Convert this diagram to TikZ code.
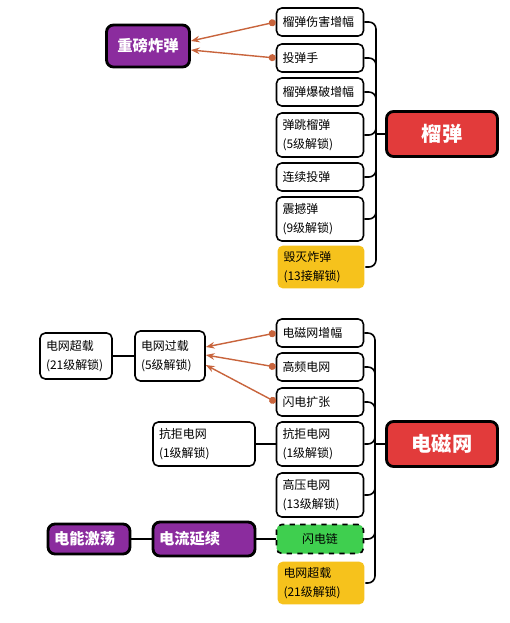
\documentclass[tikz,border=0pt]{standalone}
\usepackage{fontspec}
\setmainfont{Noto Sans CJK SC}
\usetikzlibrary{arrows.meta}
\definecolor{boxred}{HTML}{E23B3B}
\definecolor{boxpurple}{HTML}{8B2C9E}
\definecolor{boxgreen}{HTML}{3FCF4F}
\definecolor{boxyellow}{HTML}{F6C21C}
\definecolor{linkc}{HTML}{C8643C}
\tikzset{
  item/.style={draw, line width=0.9pt, rounded corners=3pt, fill=white, text width=1.5cm, inner xsep=0.12cm, align=left, minimum height=0.56cm, font=\fontsize{6.8}{10.6}\selectfont},
  twoline/.style={minimum height=0.88cm},
  hilite/.style={item, draw=none, fill=boxyellow, minimum height=0.84cm},
  chain/.style={item, dashed, fill=boxgreen, align=center, minimum height=0.58cm},
  head/.style={draw, line width=1.6pt, rounded corners=4pt, fill=boxred, text=white, font=\fontsize{11.5}{13}\selectfont\bfseries, minimum width=2.22cm, minimum height=0.9cm},
  perk/.style={draw, line width=1.6pt, rounded corners=4pt, fill=boxpurple, text=white, font=\fontsize{8.7}{10}\selectfont\bfseries, minimum height=0.64cm, inner xsep=0.12cm},
  link/.style={draw=linkc, line width=0.8pt, {Circle[length=4pt]}-{Stealth[length=5pt]}},
  tie/.style={line width=0.9pt, rounded corners=4pt},
}
\begin{document}
\begin{tikzpicture}[x=0.02cm, y=-0.02cm]
  \useasboundingbox (0,0) rectangle (510,623);
  % top: grenade tree
  \node[perk, minimum width=1.66cm, minimum height=0.84cm] (heavy) at (148,46) {重磅炸弹};
  \node[item] (t1) at (320,22) {榴弹伤害增幅};
  \node[item] (t2) at (320,58) {投弹手};
  \node[item] (t3) at (320,92) {榴弹爆破增幅};
  \node[item, twoline] (t4) at (320,135) {弹跳榴弹\\(5级解锁)};
  \node[item] (t5) at (320,177) {连续投弹};
  \node[item, twoline] (t6) at (320,219) {震撼弹\\(9级解锁)};
  \node[hilite] (t7) at (321,267) {毁灭炸弹\\(13接解锁)};
  \node[head] (grenade) at (442,134) {榴弹};
  \coordinate (trunk) at (376,134);
  \foreach \n in {t1,t2,t3,t4,t5,t6,t7}
    \draw[tie] (\n.east) -| (trunk);
  \draw[tie] (trunk) -- (grenade.west);
  \draw[link] (t1.west) -- ([yshift=0.1cm]heavy.east);
  \draw[link] (t2.west) -- ([yshift=-0.08cm]heavy.east);
  % bottom: net tree
  \node[item, twoline, text width=1.2cm, minimum height=0.92cm] (o21) at (76,356) {电网超载\\(21级解锁)};
  \node[item, twoline, text width=1.16cm, minimum height=1.0cm] (o5) at (170,356) {电网过载\\(5级解锁)};
  \node[item] (b1) at (320,333) {电磁网增幅};
  \node[item] (b2) at (320,367) {高频电网};
  \node[item] (b3) at (320,402) {闪电扩张};
  \node[item, twoline] (b4) at (320,444) {抗拒电网\\(1级解锁)};
  \node[item, twoline, text width=1.8cm] (r1) at (204,444) {抗拒电网\\(1级解锁)};
  \node[item, twoline] (b5) at (320,495) {高压电网\\(13级解锁)};
  \node[chain] (b6) at (320,539) {闪电链};
  \node[hilite] (b7) at (321,583) {电网超载\\(21级解锁)};
  \node[head] (emnet) at (442,444) {电磁网};
  \node[perk, text width=1.8cm, minimum height=0.68cm] (flow) at (204,539) {电流延续};
  \node[perk, text width=1.4cm, minimum height=0.6cm] (surge) at (89,539) {电能激荡};
  \coordinate (trunk2) at (375,444);
  \foreach \n in {b1,b2,b3,b4,b5,b6,b7}
    \draw[tie] (\n.east) -| (trunk2);
  \draw[tie] (trunk2) -- (emnet.west);
  \draw[tie] (o21.east) -- (o5.west);
  \draw[tie] (r1.east) -- (b4.west);
  \draw[tie] (surge.east) -- (flow.west);
  \draw[tie] (flow.east) -- (b6.west);
  \draw[link] (b1.west) -- ([yshift=0.18cm]o5.east);
  \draw[link] (b2.west) -- ([yshift=0.02cm]o5.east);
  \draw[link] (b3.west) -- ([yshift=-0.18cm]o5.east);
\end{tikzpicture}
\end{document}
